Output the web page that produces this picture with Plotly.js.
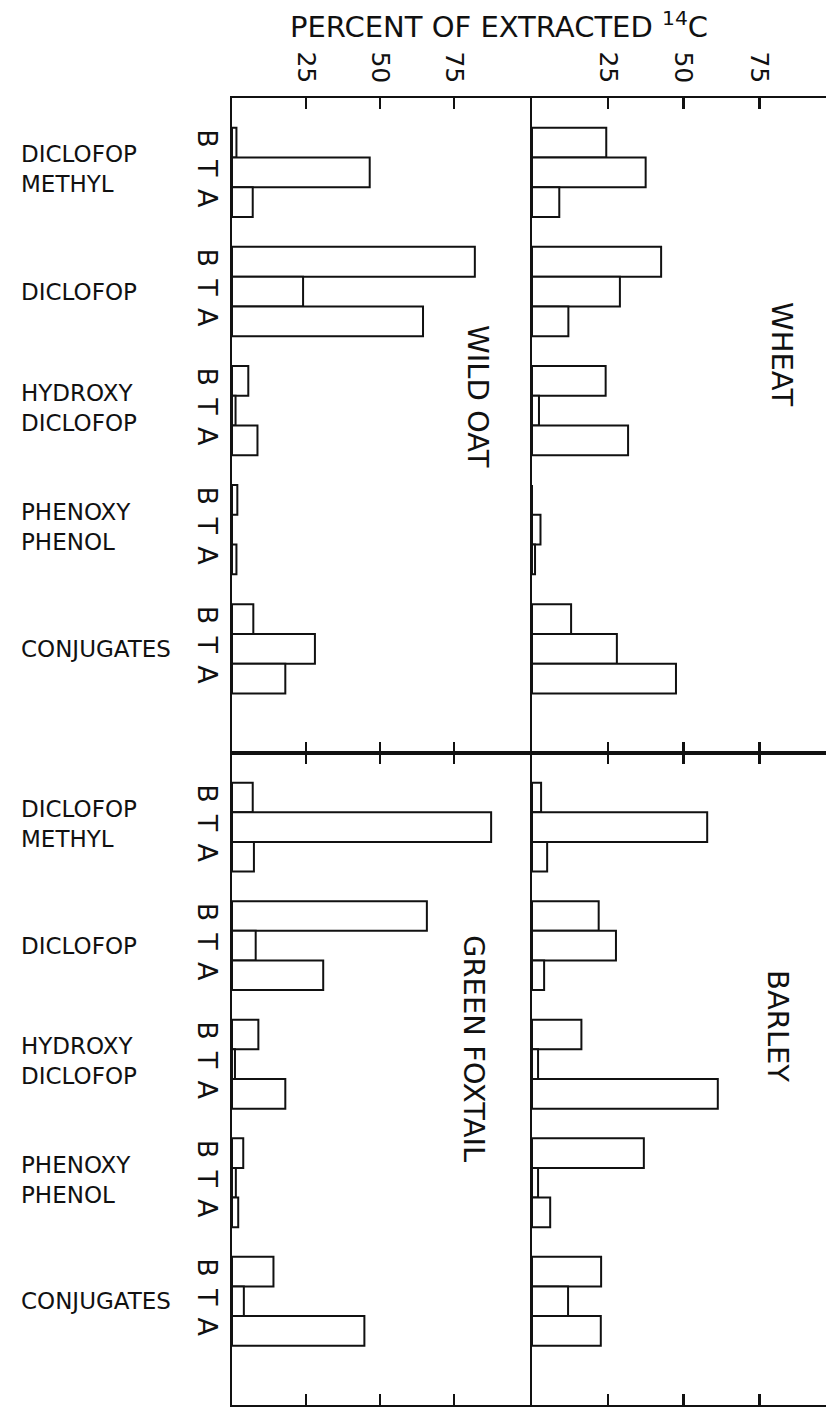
<!DOCTYPE html>
<html>
<head>
<meta charset="utf-8">
<script src="https://cdn.plot.ly/plotly-3.0.1.min.js"></script>
<style>html,body{margin:0;padding:0;background:#fff;}#chart{width:827px;height:1410px;}</style>
</head>
<body>
<div id="chart"></div>
<script>
// ---- data ----
const compounds = ["DICLOFOP<br>METHYL", "DICLOFOP", "HYDROXY<br>DICLOFOP", "PHENOXY<br>PHENOL", "CONJUGATES"];
const fractions = ["B", "T", "A"];
const xTicks = [25, 50, 75];
// values in order: for each compound B, T, A (percent of extracted 14C)
const wildOat      = [1.5, 46.5, 7,   82, 24, 64.5,   5.5, 1.2, 8.6,   1.8, 0, 1.5,   7.2, 28, 18];
const wheat        = [24.5, 37.5, 9,  42.6, 29, 12,   24.3, 2.3, 31.7, 0, 2.8, 1.0,   12.9, 28, 47.5];
const greenFoxtail = [7, 87.5, 7.4,   65.8, 8, 30.8,  8.9, 1.0, 18,    3.8, 1.3, 2.1, 14, 4, 44.7];
const barley       = [3, 57.8, 5,     22, 27.7, 4,    16.3, 2, 61.3,   36.9, 2, 6,    22.8, 11.9, 22.7];
const panelNames = ["WILD OAT", "WHEAT", "GREEN FOXTAIL", "BARLEY"];

// ---- geometry helpers (layout only) ----
const W = 827, H = 1410;
const M = {l: 232, r: 1, t: 98, b: 5};
const PW = W - M.l - M.r, PH = H - M.t - M.b;
const px2x = p => (p - M.l) / PW;
const py2y = p => (H - M.b - p) / PH;
const xSplit = px2x(532);
const ySplit = py2y(753);

// slot positions: one empty slot, then B,T,A and one gap per compound
const pos = [];
compounds.forEach((c, g) => fractions.forEach((f, k) => pos.push(1 + 4 * g + k + 0.5)));
const tickText = pos.map((p, i) => fractions[i % 3]);

const ink = "#111";
function bars(vals, xa, ya) {
  return {
    type: "bar", orientation: "h", x: vals, y: pos, width: 1,
    xaxis: xa, yaxis: ya,
    marker: {color: "#ffffff", line: {color: ink, width: 2}},
    hoverinfo: "x"
  };
}
const data = [
  bars(wildOat, "x", "y"),
  bars(wheat, "x2", "y2"),
  bars(greenFoxtail, "x3", "y3"),
  bars(barley, "x4", "y4")
];

const fontFam = "DejaVu Sans, Arial, sans-serif";
function xAx(dom, anchor, side, rng, labels) {
  return {
    domain: dom, anchor: anchor, side: side, range: rng,
    tickmode: "array", tickvals: xTicks, ticktext: xTicks.map(String),
    showticklabels: labels, tickangle: 90, ticklabelstandoff: 4,
    tickfont: {size: 25, color: ink, family: fontFam},
    ticks: "inside", ticklen: 11, tickwidth: 2.5, tickcolor: ink,
    showline: true, linewidth: 2, linecolor: ink, mirror: "ticks",
    showgrid: false, zeroline: false, fixedrange: true
  };
}
function yAx(dom, anchor, labels) {
  return {
    domain: dom, anchor: anchor, range: [22, 0],
    tickmode: "array", tickvals: pos, ticktext: tickText,
    showticklabels: labels, tickangle: 90, ticklabelstandoff: 0,
    tickfont: {size: 27, color: ink, family: fontFam},
    ticks: "", showline: true, linewidth: 2, linecolor: ink,
    showgrid: false, zeroline: false, fixedrange: true
  };
}

const annotations = [];
// compound labels for both rows
["y", "y3"].forEach(ya => {
  compounds.forEach((c, g) => {
    annotations.push({
      text: c, xref: "paper", yref: ya, x: px2x(19), y: pos[3 * g + 1],
      yshift: c.indexOf("<br>") >= 0 ? 3 : 0,
      xanchor: "left", yanchor: "middle", align: "left", showarrow: false,
      font: {size: 23, color: ink, family: fontFam}
    });
  });
});
// panel names (rotated)
const namePos = [[478, 396], [782, 354], [474, 1048], [778, 1026]];
panelNames.forEach((n, i) => {
  annotations.push({
    text: n, xref: "paper", yref: "paper", x: px2x(namePos[i][0]), y: py2y(namePos[i][1]),
    xanchor: "center", yanchor: "middle", textangle: 90, showarrow: false,
    font: {size: 29, color: ink, family: fontFam}
  });
});

const layout = {
  width: W, height: H,
  margin: {l: M.l, r: M.r, t: M.t, b: M.b, pad: 0},
  paper_bgcolor: "#ffffff", plot_bgcolor: "#ffffff",
  showlegend: false, bargap: 0,
  title: {
    text: "PERCENT OF EXTRACTED <sup>14</sup>C",
    xref: "container", yref: "container",
    x: 290 / W, xanchor: "left", y: 1 - 27 / H, yanchor: "middle",
    font: {size: 29, color: ink, family: fontFam}
  },
  xaxis: xAx([0, xSplit], "y", "top", [0, 101.3], true),
  xaxis2: xAx([xSplit, 1], "y2", "top", [0, 97], true),
  xaxis3: xAx([0, xSplit], "y3", "bottom", [0, 101.3], false),
  xaxis4: xAx([xSplit, 1], "y4", "bottom", [0, 97], false),
  yaxis: yAx([ySplit, 1], "x", true),
  yaxis2: yAx([ySplit, 1], "x2", false),
  yaxis3: yAx([0, ySplit], "x3", true),
  yaxis4: yAx([0, ySplit], "x4", false),
  annotations: annotations
};

Plotly.newPlot("chart", data, layout, {displayModeBar: false, staticPlot: true});
</script>
</body>
</html>
